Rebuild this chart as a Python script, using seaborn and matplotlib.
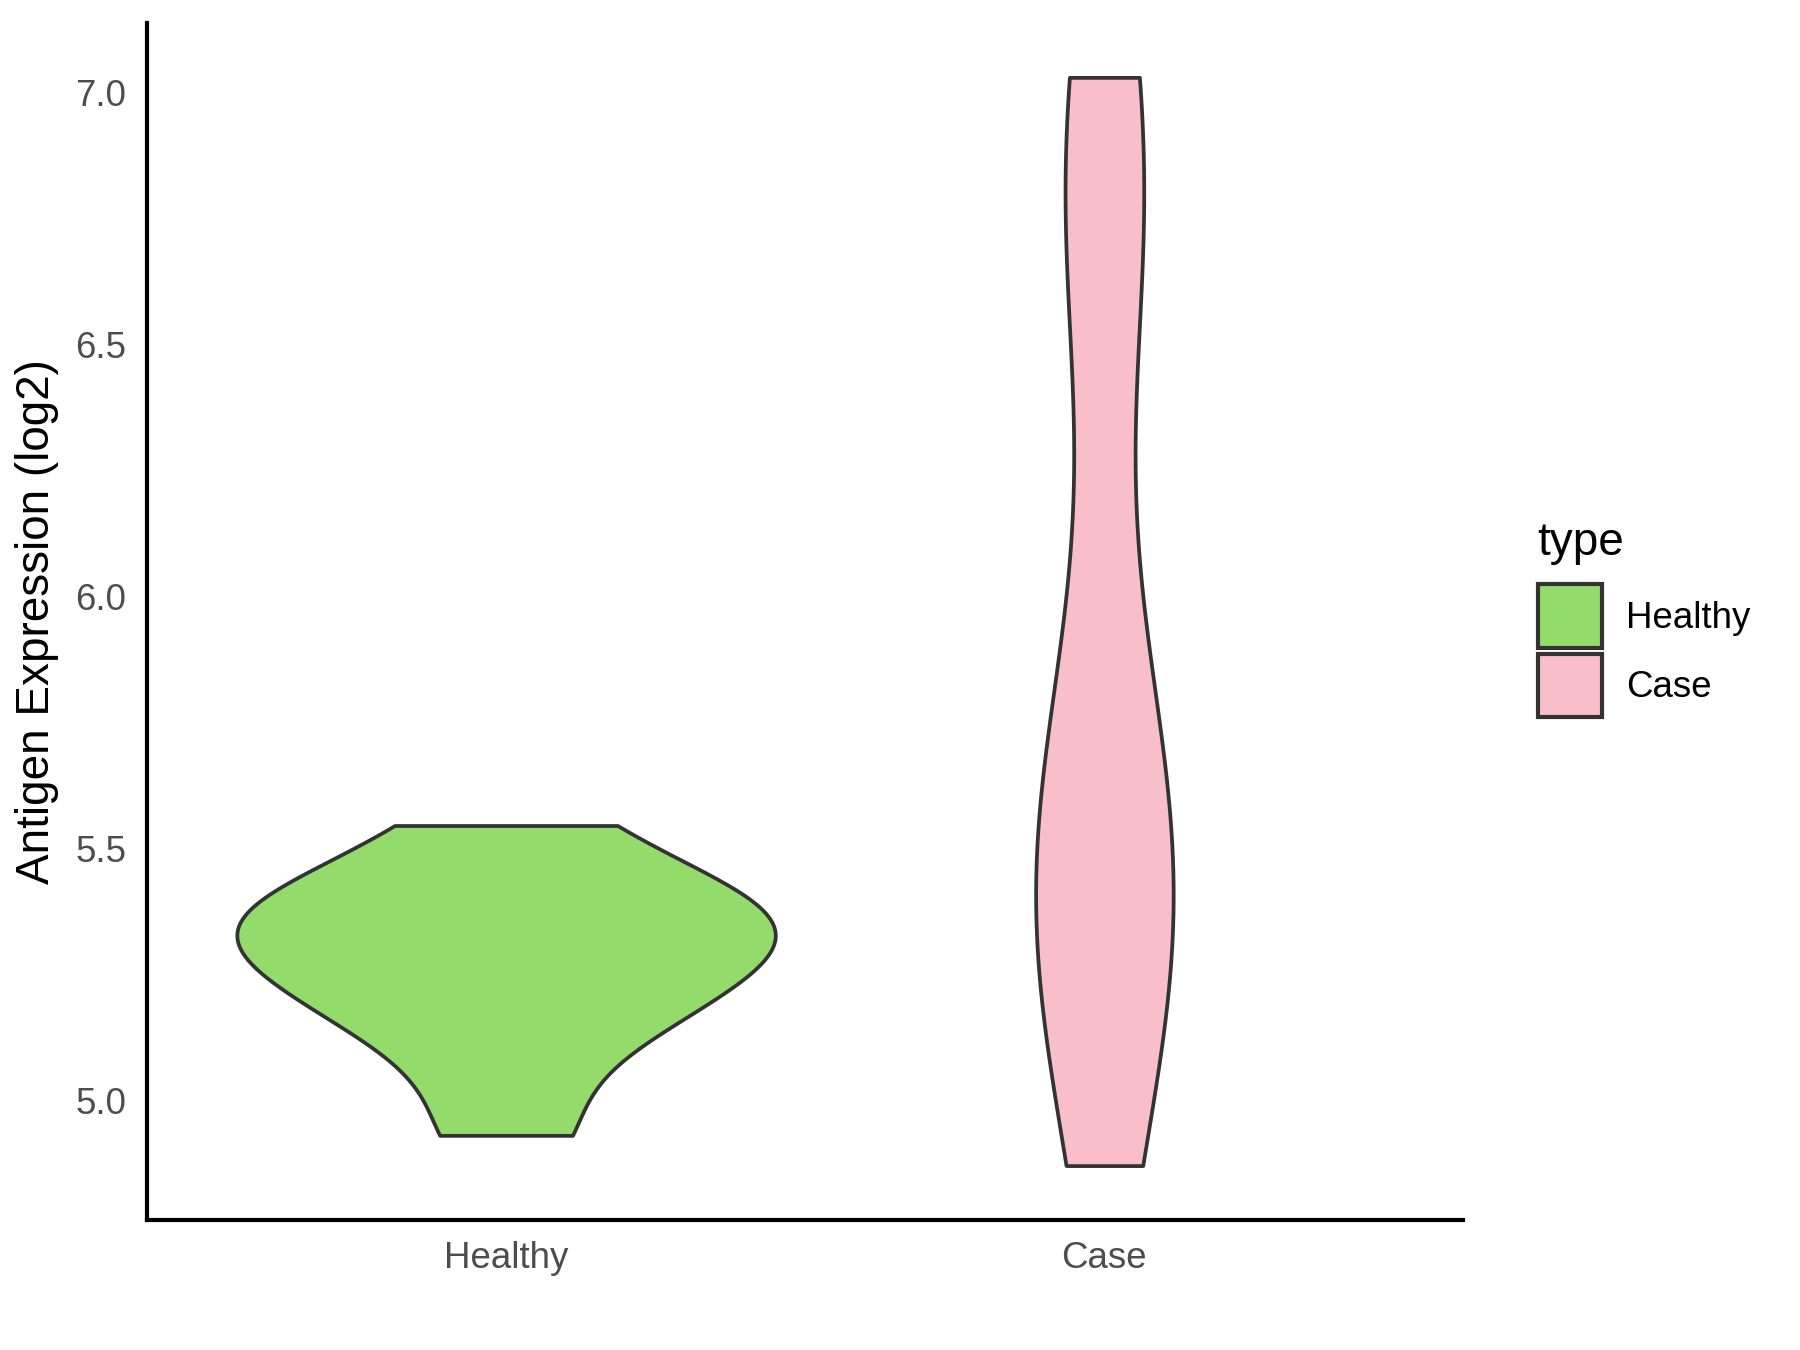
import numpy as np
import pandas as pd
import seaborn as sns
import matplotlib.pyplot as plt
from matplotlib.patches import Patch

# values (log2 antigen expression)
healthy = [4.93, 5.12, 5.2, 5.25, 5.32, 5.35, 5.38, 5.42, 5.545]
case = [4.87, 5.22, 5.31, 5.36, 5.4, 5.5, 5.62, 5.85, 6.62, 6.8, 6.88, 7.03]
groups = ["Healthy", "Case"]
colors = {"Healthy": "#93DB6B", "Case": "#F8BFCA"}

df = pd.DataFrame({
    "type": ["Healthy"] * len(healthy) + ["Case"] * len(case),
    "value": healthy + case,
})

sns.set_style("white")
plt.rcParams["font.family"] = ["Liberation Sans", "DejaVu Sans"]
plt.rcParams["text.color"] = "black"

fig = plt.figure(figsize=(6, 4.5), dpi=300)
ax = fig.add_axes([0.0817, 0.0963, 0.7313, 0.8867])

sns.violinplot(data=df, x="type", y="value", hue="type", order=groups,
               hue_order=groups, palette=colors, cut=0, inner=None,
               density_norm="area", common_norm=True, width=0.9,
               bw_adjust=0.9, linewidth=0.9, linecolor="#333333",
               saturation=1, legend=False, ax=ax)

ax.set_xlim(-0.6, 1.6)
ax.set_ylim(4.762, 7.138)
ax.set_yticks([5.0, 5.5, 6.0, 6.5, 7.0])
ax.set_yticklabels(["5.0", "5.5", "6.0", "6.5", "7.0"])
ax.set_xlabel("")
ax.set_ylabel("Antigen Expression (log2)", fontsize=11, color="black")
sns.despine(ax=ax)
for s in ["left", "bottom"]:
    ax.spines[s].set_linewidth(1.0)
    ax.spines[s].set_color("black")
ax.tick_params(axis="both", direction="out", length=2.5, width=1.0,
               color="#333333", labelsize=8.8, labelcolor="#4D4D4D", pad=2.5)

handles = [Patch(facecolor=colors[g], edgecolor="#333333", linewidth=1.0, label=g)
           for g in groups]
leg = fig.legend(handles=handles, title="type", loc="upper left",
                 bbox_to_anchor=(0.838, 0.636), frameon=False, fontsize=8.8,
                 title_fontsize=11, handlelength=1.75, handleheight=2.3,
                 handletextpad=0.65, labelspacing=0.15, alignment="left",
                 borderpad=0.3)
leg._legend_box.sep = 4.7
for t in leg.get_texts():
    t.set_color("black")
leg.get_title().set_color("black")

fig.savefig("out.png", dpi=300)
